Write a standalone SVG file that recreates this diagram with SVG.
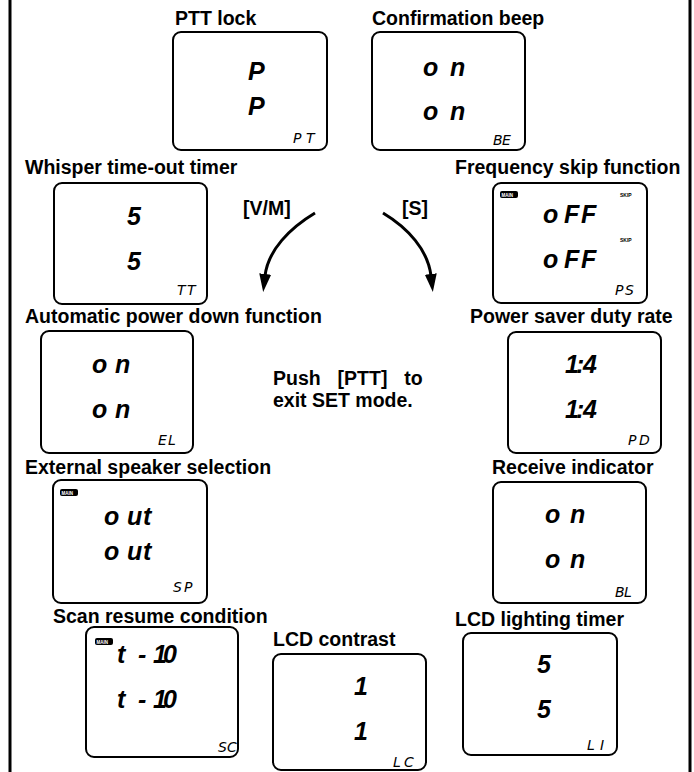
<svg xmlns="http://www.w3.org/2000/svg" width="694" height="772" viewBox="0 0 694 772">
<style>
.title{font-family:"Liberation Sans",Arial,sans-serif;font-weight:bold;font-size:19.5px;fill:#000}
.lcd{fill:#fff;stroke:#000;stroke-width:2}
.seg{font-family:"Liberation Sans",Arial,sans-serif;font-weight:bold;font-style:italic;font-size:25px;fill:#000}
.small{font-family:"DejaVu Sans",sans-serif;font-style:italic;font-size:14px;fill:#000}
.tiny{font-family:"Liberation Sans",Arial,sans-serif;font-weight:bold;font-size:5px;fill:#000}
.badge{fill:#000}
.badgetxt{font-family:"Liberation Sans",Arial,sans-serif;font-weight:bold;font-size:4.5px;fill:#fff}
.arrow{fill:none;stroke:#000;stroke-width:3}
.frame{stroke:#000;stroke-width:3}
</style>
<defs>
<marker id="ah" markerUnits="userSpaceOnUse" viewBox="0 0 18 12" refX="2" refY="6" markerWidth="18" markerHeight="12" orient="auto">
<path d="M0,0 L18,6 L0,12 z" fill="#000"/>
</marker>
</defs>
<rect width="694" height="772" fill="#fff"/>
<line class="frame" x1="10" y1="0" x2="10" y2="772"/>
<line class="frame" x1="690" y1="0" x2="690" y2="772"/>

<g id="ptt-lock">
<text class="title" x="175" y="25">PTT lock</text>
<rect class="lcd" x="173" y="32" width="154" height="118" rx="8"/>
<text class="seg" x="248" y="80">P</text>
<text class="seg" x="248" y="115">P</text>
<text class="small" x="293 306" y="143">PT</text>
</g>

<g id="confirmation-beep">
<text class="title" x="372" y="25">Confirmation beep</text>
<rect class="lcd" x="372" y="32" width="153" height="118" rx="8"/>
<text class="seg" x="423 450" y="76">on</text>
<text class="seg" x="423 450" y="120">on</text>
<text class="small" x="493 502" y="145">BE</text>
</g>

<g id="whisper-timer">
<text class="title" x="25" y="174">Whisper time-out timer</text>
<rect class="lcd" x="54" y="183" width="153" height="121" rx="8"/>
<text class="seg" x="127" y="225">5</text>
<text class="seg" x="127" y="270">5</text>
<text class="small" x="177 187" y="295">TT</text>
</g>

<g id="frequency-skip">
<text class="title" x="455" y="174">Frequency skip function</text>
<rect class="lcd" x="493" y="183" width="154" height="120" rx="8"/>
<rect class="badge" x="500" y="191" width="18" height="7" rx="2"/>
<text class="badgetxt" x="501.5" y="196.5">MAIN</text>
<text class="tiny" x="620" y="197">SKIP</text>
<text class="tiny" x="620" y="242">SKIP</text>
<text class="seg" x="543 564 581" y="223">oFF</text>
<text class="seg" x="543 564 581" y="268">oFF</text>
<text class="small" x="615 625" y="295">PS</text>
</g>

<g id="auto-power-down">
<text class="title" x="25" y="323">Automatic power down function</text>
<rect class="lcd" x="41" y="331" width="152" height="122" rx="8"/>
<text class="seg" x="92 115" y="373">on</text>
<text class="seg" x="92 115" y="418">on</text>
<text class="small" x="158 168" y="445">EL</text>
</g>

<g id="power-saver">
<text class="title" x="470" y="323">Power saver duty rate</text>
<rect class="lcd" x="508" y="332" width="153" height="121" rx="8"/>
<text class="seg" x="565 576 583" y="373">1:4</text>
<text class="seg" x="565 576 583" y="418">1:4</text>
<text class="small" x="628 639" y="445">PD</text>
</g>

<g id="push-ptt-note">
<text class="title" x="273" y="385" word-spacing="11.5">Push [PTT] to</text>
<text class="title" x="273" y="407">exit SET mode.</text>
</g>

<g id="external-speaker">
<text class="title" x="25" y="474">External speaker selection</text>
<rect class="lcd" x="53" y="480" width="154" height="123" rx="8"/>
<rect class="badge" x="60" y="489" width="18" height="7" rx="2"/>
<text class="badgetxt" x="61.5" y="494.5">MAIN</text>
<text class="seg" x="104 127 143" y="525">out</text>
<text class="seg" x="104 127 143" y="560">out</text>
<text class="small" x="173 184" y="592">SP</text>
</g>

<g id="receive-indicator">
<text class="title" x="492" y="474">Receive indicator</text>
<rect class="lcd" x="493" y="482" width="153" height="121" rx="8"/>
<text class="seg" x="545 570" y="523">on</text>
<text class="seg" x="545 570" y="568">on</text>
<text class="small" x="615 624" y="597">BL</text>
</g>

<g id="scan-resume">
<text class="title" x="53" y="623">Scan resume condition</text>
<rect class="lcd" x="86" y="627" width="152" height="130" rx="8"/>
<rect class="badge" x="95" y="638" width="18" height="7" rx="2"/>
<text class="badgetxt" x="96.5" y="643.5">MAIN</text>
<text class="seg" x="117 138 153 163" y="663">t-10</text>
<text class="seg" x="117 138 153 163" y="708">t-10</text>
<text class="small" x="218 227" y="752">SC</text>
</g>

<g id="lcd-contrast">
<text class="title" x="273" y="646">LCD contrast</text>
<rect class="lcd" x="273" y="654" width="153" height="116" rx="8"/>
<text class="seg" x="354" y="695" font-size="27">1</text>
<text class="seg" x="354" y="740" font-size="27">1</text>
<text class="small" x="393 404" y="767">LC</text>
</g>

<g id="lcd-lighting-timer">
<text class="title" x="455" y="626">LCD lighting timer</text>
<rect class="lcd" x="463" y="633" width="154" height="122" rx="8"/>
<text class="seg" x="537" y="673">5</text>
<text class="seg" x="537" y="718">5</text>
<text class="small" x="587 600" y="750">LI</text>
</g>

<g id="connectors">
<path class="arrow" d="M315,213 C290,228 268,250 265,276" marker-end="url(#ah)"/>
<path class="arrow" d="M383,213 C408,228 428,250 431,276" marker-end="url(#ah)"/>
<text class="title" x="243" y="215">[V/M]</text>
<text class="title" x="402" y="215">[S]</text>
</g>
</svg>
